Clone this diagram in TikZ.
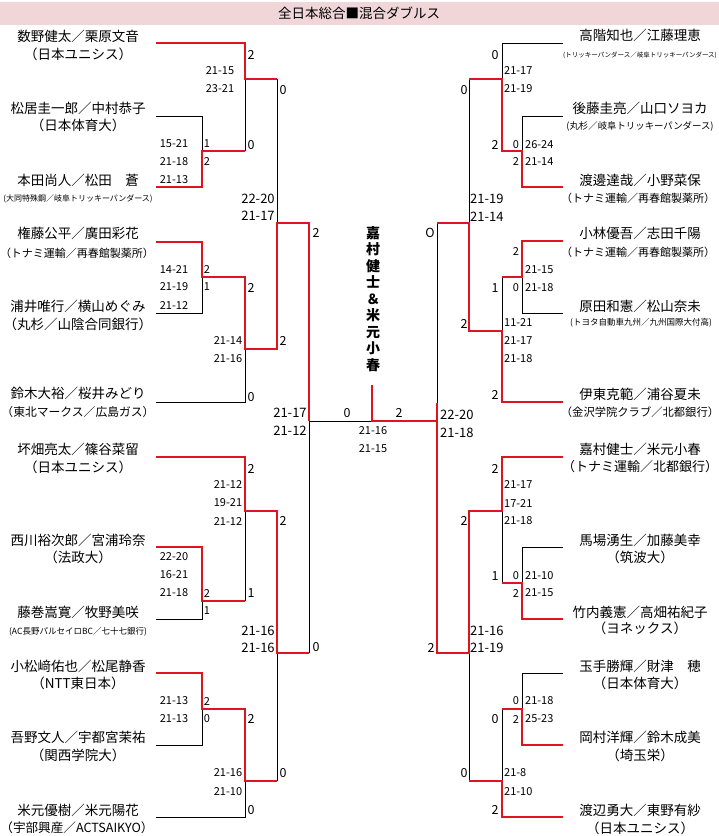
\documentclass[tikz,border=0pt]{standalone}
\usepackage{fontspec}
\setmainfont{Noto Sans CJK JP}
\definecolor{brred}{RGB}{222,20,32}
\definecolor{titlepink}{RGB}{240,214,216}
\begin{document}
\begin{tikzpicture}[x=1pt,y=-1pt,
  bk/.style={draw=black,line width=1pt},
  rd/.style={draw=brred,line width=2.4pt,line join=miter},
  nm/.style={inner sep=0pt,font=\fontsize{13.5}{15}\selectfont},
  sm/.style={inner sep=0pt,font=\fontsize{#1}{#1}\selectfont},
  sc/.style={inner sep=0pt,font=\fontsize{11}{12}\selectfont},
  scb/.style={inner sep=0pt,font=\fontsize{13}{14}\selectfont},
  dg/.style={inner sep=0pt,font=\fontsize{11}{12}\selectfont},
  dgb/.style={inner sep=0pt,font=\fontsize{12.5}{13}\selectfont}]
\useasboundingbox (0,0) rectangle (719,836);
% title
\fill[titlepink] (0,2) rectangle (719,25);
\node[inner sep=0pt,font=\fontsize{13.5}{15}\selectfont] (title) at (359,13.5) {全日本総合■混合ダブルス};

% ---------- coordinates ----------
\foreach \n/\y in {1/43,2/116,3/187,4/242,5/313,6/402,7/457,8/547,9/619,10/673,11/745,12/817}
  {\coordinate (L\n) at (156,\y);}
\foreach \n/\y in {1/43,2/116,3/187,4/241,5/313,6/402,7/457,8/547,9/619,10/673,11/745,12/817}
  {\coordinate (R\n) at (563,\y);}
\coordinate (m23) at (202,151);
\coordinate (m45) at (202,277);
\coordinate (m89) at (202,601);
\coordinate (m1011) at (202,709);
\coordinate (mA) at (245,79);
\coordinate (mB) at (245,349);
\coordinate (mC) at (245,511);
\coordinate (mD) at (245,781);
\coordinate (qL1) at (277,223);
\coordinate (qL2) at (277,653);
\coordinate (sL) at (309,421);
\coordinate (F) at (372,421);
\coordinate (W) at (372,385);
\coordinate (sRf) at (437,421);
\coordinate (sR) at (437,403);
\coordinate (qR1) at (469,223);
\coordinate (qR2) at (469,653);
\coordinate (nA) at (502,79);
\coordinate (nB) at (502,331);
\coordinate (nC) at (502,511);
\coordinate (nD) at (502,781);
\coordinate (n23) at (522,151);
\coordinate (n45) at (522,277);
\coordinate (n89) at (522,583);
\coordinate (n1011) at (522,709);

% ---------- black lines ----------
\path[bk] (L2) -| (m23);
\path[bk] (m23 -| mA) -- (mA);
\path[bk] (mA -| qL1) -- (qL1);
\path[bk] (L5) -| (m45);
\path[bk] (L6) -| (mB);
\path[bk] (qL2 -| sL) -- (sL);
\path[bk] (m89 -| mC) -- (mC);
\path[bk] (L9) -| (m89);
\path[bk] (mD -| qL2) -- (qL2);
\path[bk] (L11) -| (m1011);
\path[bk] (L12) -| (mD);
\path[bk] (sL) -- (F);
\path[bk] (qR1 -| sR) -- (sR);
\path[bk] (nA -| qR1) -- (qR1);
\path[bk] (R1) -| (nA);
\path[bk] (R2) -| (n23);
\path[bk] (n45 -| nB) -- (nB);
\path[bk] (R5) -| (n45);
\path[bk] (n89 -| nC) -- (nC);
\path[bk] (R8) -| (n89);
\path[bk] (n1011 -| nD) -- (nD);
\path[bk] (R10) -| (n1011);
\path[bk] (nD -| qR2) -- (qR2);

% ---------- red lines ----------
\path[rd] (L3) -| (m23) -- (m23 -| mA);
\path[rd] (L1) -| (mA) -- (mA -| qL1);
\path[rd] (L4) -| (m45) -- (m45 -| mB) -- (mB) -- (mB -| qL1) -- (qL1) -- (qL1 -| sL) -- (sL);
\path[rd] (L7) -| (mC) -- (mC -| qL2) -- (qL2) -- (qL2 -| sL);
\path[rd] (L8) -| (m89) -- (m89 -| mC);
\path[rd] (L10) -| (m1011) -- (m1011 -| mD) -- (mD) -- (mD -| qL2);
\path[rd] (W) -- (F) -- (sRf);
\path[rd] (R7) -| (nC) -- (nC -| qR2) -- (qR2) -- (qR2 -| sR) -- (sR);
\path[rd] (R6) -| (nB) -- (nB -| qR1) -- (qR1) -- (qR1 -| sR);
\path[rd] (R3) -| (n23) -- (n23 -| nA) -- (nA) -- (nA -| qR1);
\path[rd] (R4) -| (n45) -- (n45 -| nB);
\path[rd] (R9) -| (n89) -- (n89 -| nC);
\path[rd] (R11) -| (n1011) -- (n1011 -| nD);
\path[rd] (R12) -| (nD) -- (nD -| qR2);

% ---------- champion ----------
\node[inner sep=0pt,align=center,font=\fontsize{14}{16.5}\selectfont\bfseries] (champ) at (373,299)
  {嘉\\村\\健\\士\\＆\\米\\元\\小\\春};

% ---------- left names ----------
\node[nm] (tL1a) at (78,36) {数野健太／栗原文音};
\node[nm] (tL1b) at (78,54) {（日本ユニシス）};
\node[nm] (tL2a) at (78,108) {松居圭一郎／中村恭子};
\node[nm] (tL2b) at (78,125) {（日本体育大）};
\node[nm] (tL3a) at (78,180) {本田尚人／松田　蒼};
\node[sm=8] (tL3b) at (78,199) {(大同特殊鋼／岐阜トリッキーパンダース)};
\node[nm] (tL4a) at (78,233) {権藤公平／廣田彩花};
\node[sm=11] (tL4b) at (77,253) {（トナミ運輸／再春館製薬所）};
\node[nm] (tL5a) at (78,306) {浦井唯行／横山めぐみ};
\node[nm] (tL5b) at (78,324) {（丸杉／山陰合同銀行）};
\node[nm] (tL6a) at (78,393) {鈴木大裕／桜井みどり};
\node[sm=11.8] (tL6b) at (78,412) {（東北マークス／広島ガス）};
\node[nm] (tL7a) at (78,449) {坏畑亮太／篠谷菜留};
\node[nm] (tL7b) at (78,467) {（日本ユニシス）};
\node[nm] (tL8a) at (78,540) {西川裕次郎／宮浦玲奈};
\node[nm] (tL8b) at (78,557) {（法政大）};
\node[nm] (tL9a) at (78,612) {藤巻嵩寛／牧野美咲};
\node[sm=8.5] (tL9b) at (78,632) {(AC長野パルセイロBC／七十七銀行)};
\node[nm] (tL10a) at (78,666) {小松﨑佑也／松尾静香};
\node[nm] (tL10b) at (78,683) {（NTT東日本）};
\node[nm] (tL11a) at (78,737) {吾野文人／宇都宮茉祐};
\node[nm] (tL11b) at (78,755) {（関西学院大）};
\node[nm] (tL12a) at (78,810) {米元優樹／米元陽花};
\node[sm=12.6] (tL12b) at (77,828) {（宇部興産／ACTSAIKYO）};

% ---------- right names ----------
\node[nm] (tR1a) at (640,35) {高階知也／江藤理恵};
\node[sm=6.5] (tR1b) at (640,55) {(トリッキーパンダース／岐阜トリッキーパンダース)};
\node[nm] (tR2a) at (640,108) {後藤圭亮／山口ソヨカ};
\node[sm=9.4] (tR2b) at (640,126) {(丸杉／岐阜トリッキーパンダース)};
\node[nm] (tR3a) at (640,180) {渡邊達哉／小野菜保};
\node[sm=11] (tR3b) at (638,198) {（トナミ運輸／再春館製薬所）};
\node[nm] (tR4a) at (640,233) {小林優吾／志田千陽};
\node[sm=11] (tR4b) at (638,252) {（トナミ運輸／再春館製薬所）};
\node[nm] (tR5a) at (640,306) {原田和憲／松山奈未};
\node[sm=8.5] (tR5b) at (641,323) {(トヨタ自動車九州／九州国際大付高)};
\node[nm] (tR6a) at (640,394) {伊東克範／浦谷夏未};
\node[sm=11.3] (tR6b) at (640,412) {（金沢学院クラブ／北都銀行）};
\node[nm] (tR7a) at (640,449) {嘉村健士／米元小春};
\node[sm=13] (tR7b) at (640,467) {（トナミ運輸／北都銀行）};
\node[nm] (tR8a) at (640,540) {馬場湧生／加藤美幸};
\node[nm] (tR8b) at (640,557) {（筑波大）};
\node[nm] (tR9a) at (640,612) {竹内義憲／高畑祐紀子};
\node[nm] (tR9b) at (640,628) {（ヨネックス）};
\node[nm] (tR10a) at (640,666) {玉手勝輝／財津　穂};
\node[nm] (tR10b) at (640,683) {（日本体育大）};
\node[nm] (tR11a) at (640,737) {岡村洋輝／鈴木成美};
\node[nm] (tR11b) at (640,755) {（埼玉栄）};
\node[nm] (tR12a) at (640,810) {渡辺勇大／東野有紗};
\node[nm] (tR12b) at (640,828) {（日本ユニシス）};

% ---------- left scores ----------
\foreach \y/\t [count=\i] in {144/15-21,162/21-18,180/21-13,270/14-21,287/21-19,306/21-12,557/22-20,575/16-21,593/21-18,701/21-13,719/21-13}
  {\node[sc] (sl1-\i) at (174,\y) {\t};}
\node[sc] (sl2-1) at (220,71) {21-15};
\node[sc] (sl2-2) at (220,89) {23-21};
\foreach \y/\t [count=\i from 3] in {341/21-14,359/21-16,485/21-12,503/19-21,521/21-12,773/21-16,792/21-10}
  {\node[sc] (sl2-\i) at (228,\y) {\t};}
\foreach \y/\t [count=\i] in {199/22-20,216/21-17,631/21-16,648/21-16}
  {\node[scb] (sl3-\i) at (258,\y) {\t};}
\node[scb] (sl4-1) at (290,413) {21-17};
\node[scb] (sl4-2) at (290,431) {21-12};
% final
\node[sc] (sf1) at (373,431) {21-16};
\node[sc] (sf2) at (373,449) {21-15};
\node[dgb] (df1) at (347,413) {0};
\node[dgb] (df2) at (399,413) {2};
% ---------- right scores ----------
\node[scb,anchor=west] (sr4-1) at (440,415) {22-20};
\node[scb,anchor=west] (sr4-2) at (440,433) {21-18};
\foreach \y/\t [count=\i] in {199/21-19,217/21-14,631/21-16,648/21-19}
  {\node[scb,anchor=west] (sr3-\i) at (470,\y) {\t};}
\foreach \y/\t [count=\i] in {71/21-17,89/21-19,323/11-21,341/21-17,359/21-18,485/21-17,503/17-21,521/21-18,773/21-8,792/21-10}
  {\node[sc,anchor=west] (sr2-\i) at (504,\y) {\t};}
\foreach \y/\t [count=\i] in {145/26-24,162/21-14,270/21-15,288/21-18,576/21-10,593/21-15,701/21-18,719/25-23}
  {\node[sc,anchor=west] (sr1-\i) at (525,\y) {\t};}

% ---------- game counts ----------
\foreach \y/\t [count=\i] in {144/1,162/2,270/2,287/1,593/2,611/1,701/2,719/0}
  {\node[dg] (dl1-\i) at (207,\y) {\t};}
\foreach \y/\t [count=\i] in {55/2,145/0,288/2,397/0,469/2,593/1,719/2,810/0}
  {\node[dgb] (dl2-\i) at (251,\y) {\t};}
\foreach \y/\t [count=\i] in {90/0,341/2,521/2,773/0}
  {\node[dgb] (dl3-\i) at (283,\y) {\t};}
\node[dgb] (dl4-1) at (316,233) {2};
\node[dgb] (dl4-2) at (316,647) {0};
\node[dgb] (dr4-1) at (430,233) {O};
\node[dgb] (dr4-2) at (431,648) {2};
\foreach \y/\t [count=\i] in {90/0,324/2,521/2,773/0}
  {\node[dgb] (dr3-\i) at (464,\y) {\t};}
\foreach \y/\t [count=\i] in {55/0,145/2,288/1,395/2,469/2,576/1,719/0,810/2}
  {\node[dgb] (dr2-\i) at (495,\y) {\t};}
\foreach \y/\t [count=\i] in {145/0,162/2,252/2,288/0,576/0,593/2,701/0,719/2}
  {\node[dg] (dr1-\i) at (516,\y) {\t};}
\end{tikzpicture}
\end{document}
